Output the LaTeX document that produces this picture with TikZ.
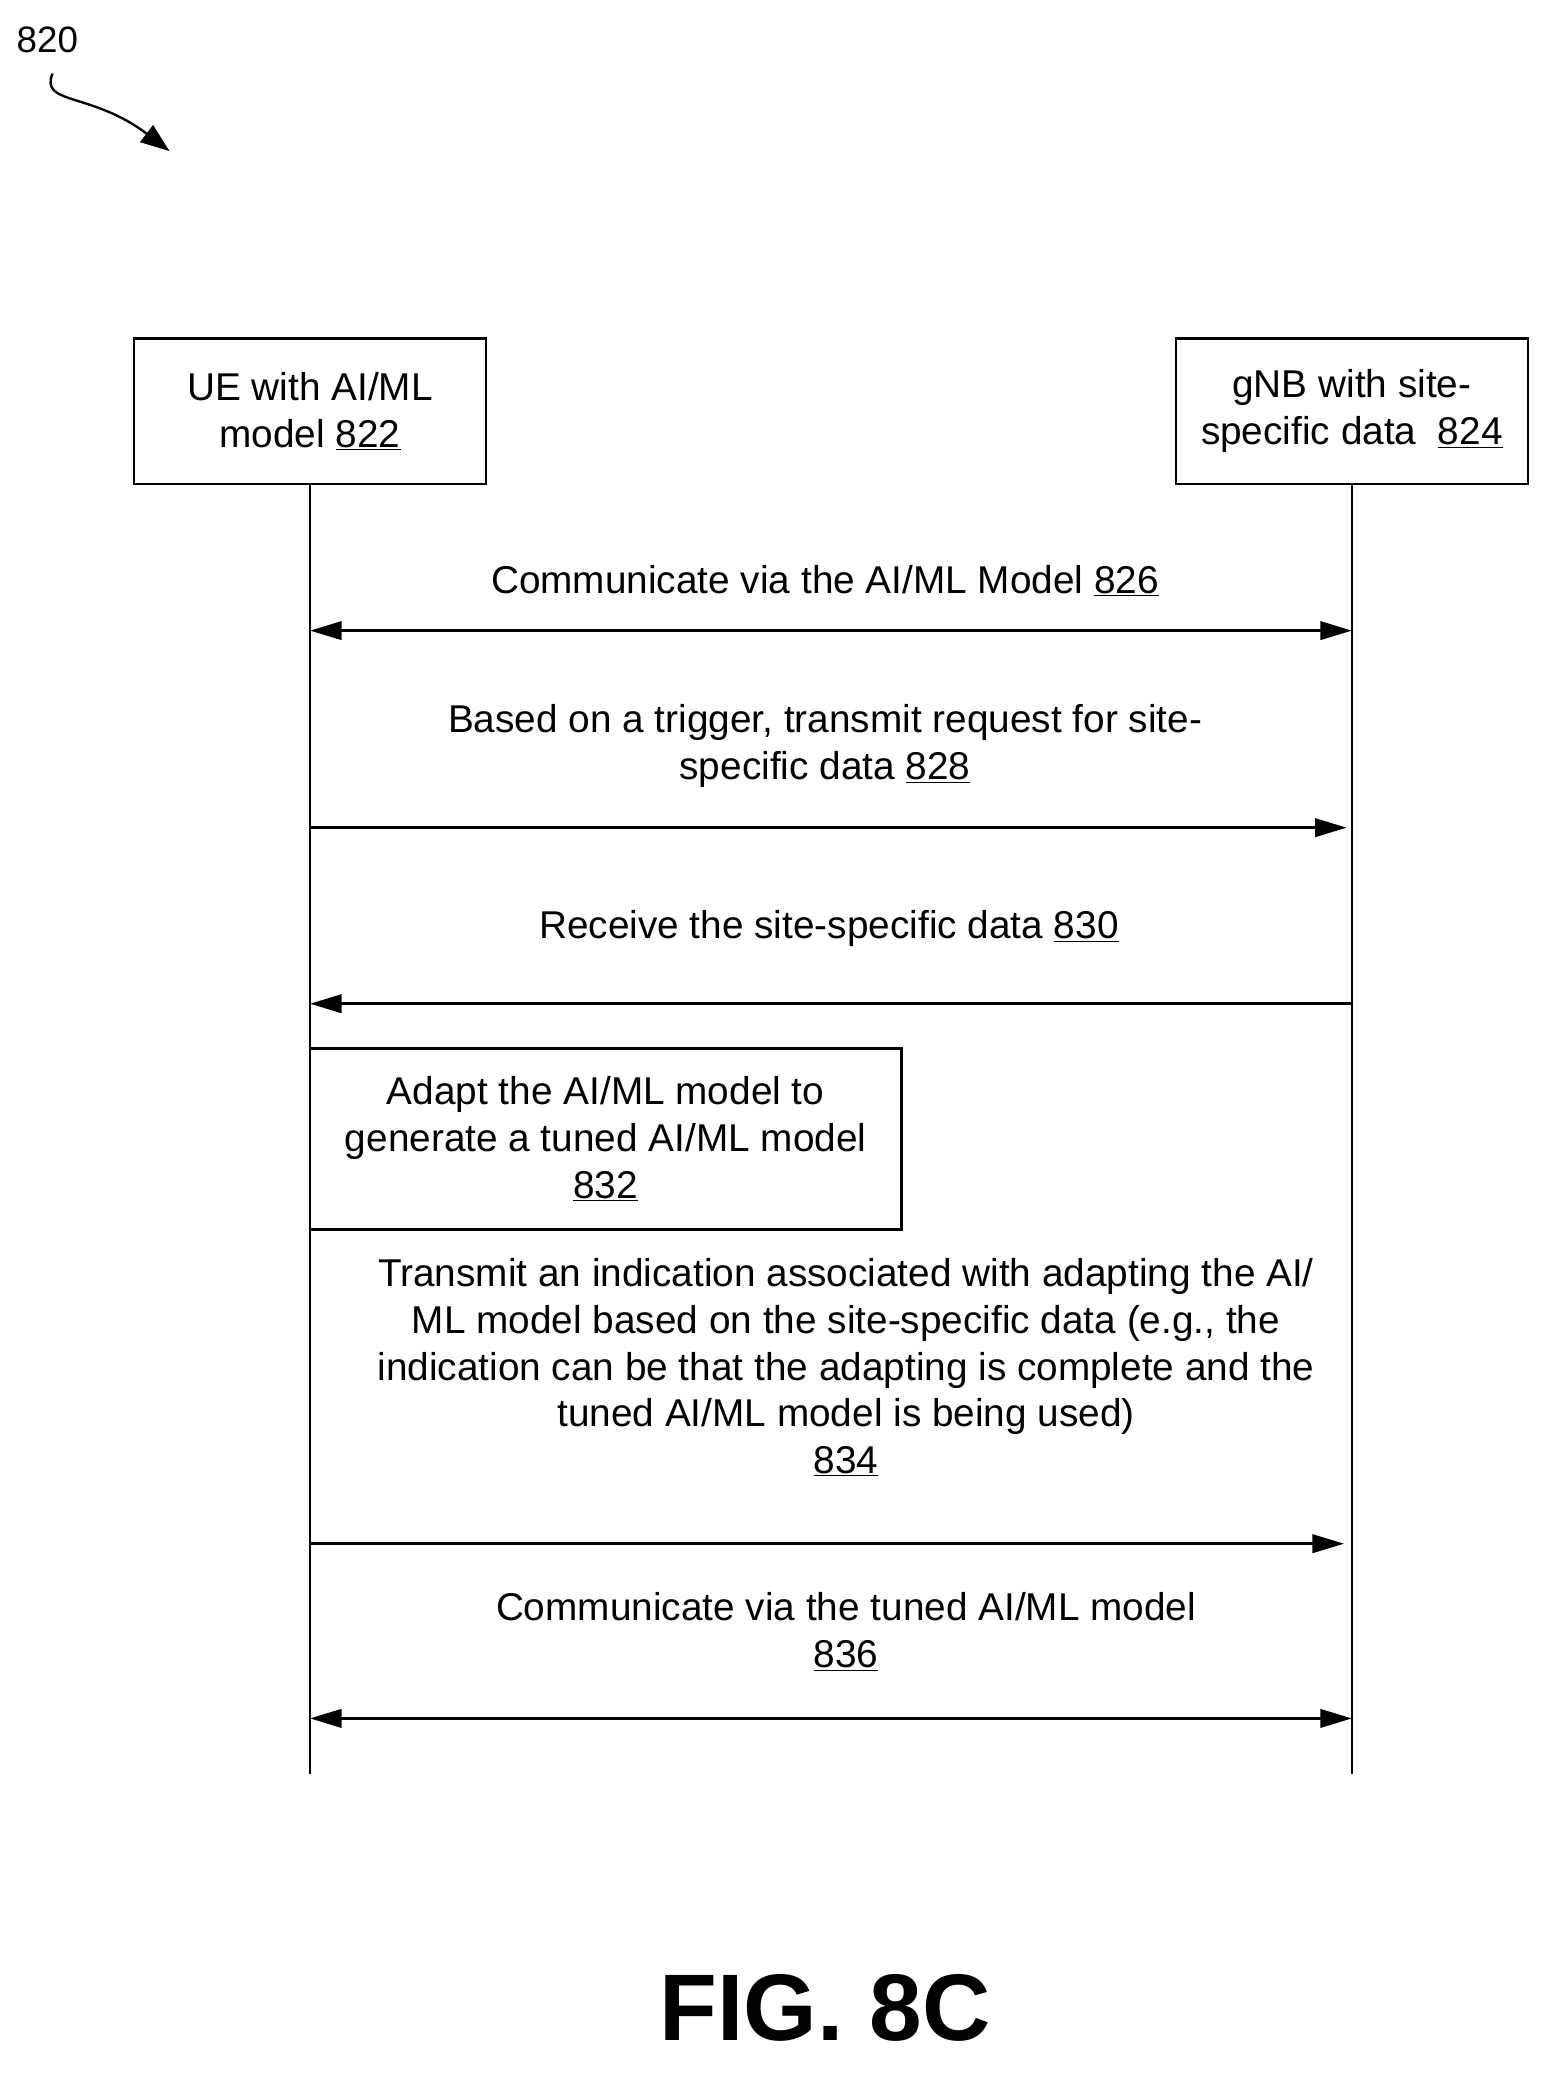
\documentclass[tikz,border=0pt]{standalone}
\usepackage{fontspec}
\setmainfont{Liberation Sans}
\usetikzlibrary{arrows.meta,decorations.pathmorphing}
\begin{document}
\begin{tikzpicture}[x=1pt,y=-1pt,
  txt/.style={font=\fontsize{29.5}{35.5}\selectfont,align=center,inner sep=0},
  box/.style={draw,line width=2pt,txt},
  life/.style={line width=2pt},
  msg/.style={line width=2pt,-{Triangle[length=24pt,width=14pt]}},
  dmsg/.style={line width=2pt,{Triangle[length=24pt,width=14pt]}-{Triangle[length=24pt,width=14pt]}}]
\useasboundingbox (0,0) rectangle (1190,1584);
\node[box,minimum width=268,minimum height=111] (ue) at (236,313) {UE with AI/ML\\model \underline{822}};
\node[box,minimum width=268,minimum height=111] (gnb) at (1029,313) {gNB with site-\\specific data~ \underline{824}};
\coordinate (ueEnd) at (236,1350);
\coordinate (gnbEnd) at (1029,1350);
\draw[life] (ue.south) -- (ueEnd);
\draw[life] (gnb.south) -- (gnbEnd);
% 826
\coordinate (a1) at (236,480); \coordinate (b1) at (1029,480);
\draw[dmsg] (a1) -- (b1);
\node[txt] (t826) at (628,442) {Communicate via the AI/ML Model \underline{826}};
% 828
\coordinate (a2) at (236,630); \coordinate (b2) at (1025,630);
\draw[msg] (a2) -- (b2);
\node[txt] (t828) at (628,568) {Based on a trigger, transmit request for site-\\specific data \underline{828}};
% 830
\coordinate (a3) at (1029,764); \coordinate (b3) at (236,764);
\draw[msg] (a3) -- (b3);
\node[txt] (t830) at (631,707) {Receive the site-specific data \underline{830}};
% 832
\node[box,minimum width=450,minimum height=138] (b832) at (461,867) {Adapt the AI/ML model to\\generate a tuned AI/ML model\\\underline{832}};
% 834
\node[txt] (t834) at (644,1041) {Transmit an indication associated with adapting the AI/\\ML model based on the site-specific data (e.g., the\\indication can be that the adapting is complete and the\\tuned AI/ML model is being used)\\\underline{834}};
\coordinate (a4) at (236,1175); \coordinate (b4) at (1023,1175);
\draw[msg] (a4) -- (b4);
% 836
\node[txt] (t836) at (644,1242) {Communicate via the tuned AI/ML model\\\underline{836}};
\coordinate (a5) at (236,1308); \coordinate (b5) at (1029,1308);
\draw[dmsg] (a5) -- (b5);
% label
\node[font=\fontsize{28}{30}\selectfont,inner sep=0] (l820) at (36,30) {820};
\coordinate (p1) at (40,56);
\coordinate (p2) at (129,115);
\draw[line width=1.8pt,-{Triangle[length=22pt,width=16pt]}] (p1) .. controls (30,80) and (70,70) .. (p2);
\node[font=\fontsize{72}{74}\bfseries\selectfont,inner sep=0] (fig) at (628,1528) {FIG. 8C};
\end{tikzpicture}
\end{document}
